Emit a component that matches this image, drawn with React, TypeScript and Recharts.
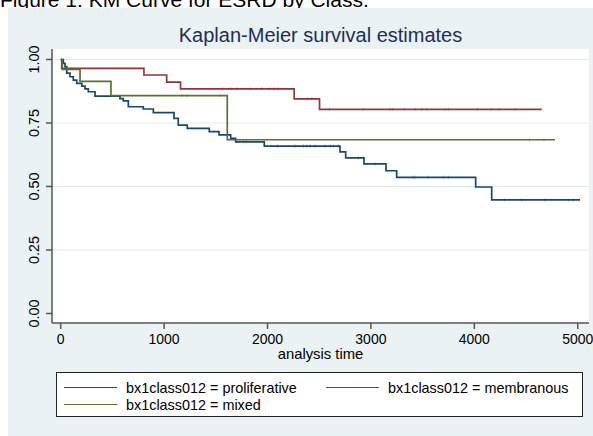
import React from 'react';
import { LineChart, Line, XAxis, YAxis, CartesianGrid } from 'recharts';

const FONT = '"Liberation Sans", Arial, Helvetica, sans-serif';

// step points (time, survival)
const prolifTimes = [0, 25, 42, 58, 90, 122, 155, 205, 235, 267, 332, 573, 605, 654, 799, 896, 1096, 1137, 1224, 1437, 1531, 1644, 1692, 1969, 2701, 2756, 2933, 3146, 3249, 4013, 4168, 5022];
const prolifSurv = [1, 0.985, 0.972, 0.946, 0.932, 0.919, 0.906, 0.895, 0.884, 0.873, 0.856, 0.846, 0.837, 0.814, 0.805, 0.791, 0.768, 0.742, 0.729, 0.716, 0.703, 0.69, 0.676, 0.659, 0.636, 0.613, 0.589, 0.562, 0.536, 0.498, 0.447, 0.447];
const prolifCensored = [1766, 1792, 2099, 2266, 2346, 2379, 2411, 2459, 2556, 2606, 2636, 2685, 2878, 2926, 3040, 3410, 3427, 3555, 3700, 3749, 4290, 4458, 4684, 4909, 4957];

const membTimes = [0, 10, 805, 1025, 1159, 2258, 2503, 4652];
const membSurv = [1, 0.965, 0.939, 0.911, 0.884, 0.845, 0.804, 0.804];
const membCensored = [1567, 1647, 1702, 1831, 1944, 2017, 2063, 2104, 2385, 2427, 2598, 2926, 3185, 3211, 3323, 3426, 3491, 3540, 3717, 3749, 4029, 4162, 4239, 4393];

const mixedTimes = [0, 15, 187, 486, 1611, 4780];
const mixedSurv = [1, 0.961, 0.914, 0.858, 0.684, 0.684];
const mixedCensored = [1170, 1219, 1541, 4532, 4674];

const xTicks = [0, 1000, 2000, 3000, 4000, 5000];
const yTicks = [0, 0.25, 0.5, 0.75, 1];
const gridValues = [0.25, 0.5, 0.75, 1];

const seriesNames = ['bx1class012 = proliferative', 'bx1class012 = membranous', 'bx1class012 = mixed'];
const seriesColors = ['#1a476f', '#90353b', '#55752f'];

type Pt = { t: number; s: number; censored: boolean };

// merge event steps with censor marks (marks sit on the current step level)
const buildSeries = (times: number[], surv: number[], censored: number[]): Pt[] => {
  const events = times.map((t, i) => ({ t, s: surv[i], censored: false }));
  const marks = censored.map(t => {
    let s = surv[0];
    times.forEach((et, i) => {
      if (et <= t) s = surv[i];
    });
    return { t, s, censored: true };
  });
  return [...events, ...marks].sort((a, b) => a.t - b.t);
};

const prolifData = buildSeries(prolifTimes, prolifSurv, prolifCensored);
const membData = buildSeries(membTimes, membSurv, membCensored);
const mixedData = buildSeries(mixedTimes, mixedSurv, mixedCensored);

const censorDot = (color: string) => (props: any) => {
  const { cx, cy, payload, index } = props;
  if (!payload || !payload.censored) return <g key={`n-${index}`} />;
  return (
    <line key={`c-${index}`} x1={cx} x2={cx} y1={cy - 1.8} y2={cy + 1.8} stroke={color} strokeWidth={1} strokeOpacity={0.35} />
  );
};

const YTick = ({ y, payload }: any) => (
  <text
    x={31.5}
    y={y}
    transform={`rotate(-90 31.5 ${y})`}
    textAnchor="middle"
    fontSize={14.4}
    fill="#000"
    fontFamily={FONT}
  >
    {Number(payload.value).toFixed(2)}
  </text>
);

const LegendItem = ({ left, top, color, name }: { left: number; top: number; color: string; name: string }) => (
  <>
    <div style={{ position: 'absolute', left, top: top + 6, width: 53, height: 1.2, background: color }} />
    <div style={{ position: 'absolute', left: left + 62, top, fontSize: 14.4, lineHeight: '14.4px', whiteSpace: 'nowrap', color: '#000' }}>
      {name}
    </div>
  </>
);

export default function App() {
  return (
    <div style={{ position: 'absolute', left: 0, top: 0, width: 593, height: 436, overflow: 'hidden', background: '#fff', fontFamily: FONT }}>
      <div style={{ position: 'absolute', left: 0, top: -11, fontSize: 21, lineHeight: '21px', color: '#000', whiteSpace: 'nowrap' }}>
        Figure 1: KM Curve for ESRD by Class.
      </div>
      <div style={{ position: 'absolute', left: 8, top: 8, width: 585, height: 428, background: '#eaf2f3' }}>
        <LineChart width={585} height={428} margin={{ top: 41, right: 4, left: 0, bottom: 73 }}>
          <CartesianGrid fill="#ffffff" vertical={false} horizontalValues={gridValues} stroke="#e3ebee" strokeWidth={1.2} />
          <XAxis
            dataKey="t"
            type="number"
            domain={[-84, 5109]}
            ticks={xTicks}
            interval={0}
            allowDataOverflow
            height={40}
            tickSize={6}
            tickMargin={5}
            stroke="#555"
            strokeWidth={1.5}
            tick={{ fontSize: 14, fill: '#000', fontFamily: FONT }}
            label={{ value: 'analysis time', position: 'insideBottom', offset: 4.5, fontSize: 14.8, fill: '#000', fontFamily: FONT }}
          />
          <YAxis
            type="number"
            domain={[-0.0374, 1.0413]}
            ticks={yTicks}
            interval={0}
            allowDataOverflow
            width={44}
            tickSize={6}
            stroke="#555"
            strokeWidth={1.5}
            tick={<YTick />}
          />
          <Line data={prolifData} dataKey="s" type="stepAfter" stroke={seriesColors[0]} strokeWidth={1.7} dot={censorDot(seriesColors[0])} activeDot={false} isAnimationActive={false} />
          <Line data={membData} dataKey="s" type="stepAfter" stroke={seriesColors[1]} strokeWidth={1.7} dot={censorDot(seriesColors[1])} activeDot={false} isAnimationActive={false} />
          <Line data={mixedData} dataKey="s" type="stepAfter" stroke={seriesColors[2]} strokeWidth={1.7} dot={censorDot(seriesColors[2])} activeDot={false} isAnimationActive={false} />
        </LineChart>
        <div style={{ position: 'absolute', left: 0, top: 16.6, width: 625, textAlign: 'center', fontSize: 20, lineHeight: '20px', color: '#1c2e5c', whiteSpace: 'nowrap' }}>
          Kaplan-Meier survival estimates
        </div>
        <div style={{ position: 'absolute', left: 48, top: 364, width: 525, height: 43, background: '#fff', border: '1px solid #222' }}>
          <LegendItem left={7} top={7.5} color={seriesColors[0]} name={seriesNames[0]} />
          <LegendItem left={269} top={7.5} color={seriesColors[1]} name={seriesNames[1]} />
          <LegendItem left={7} top={24.5} color={seriesColors[2]} name={seriesNames[2]} />
        </div>
      </div>
    </div>
  );
}
